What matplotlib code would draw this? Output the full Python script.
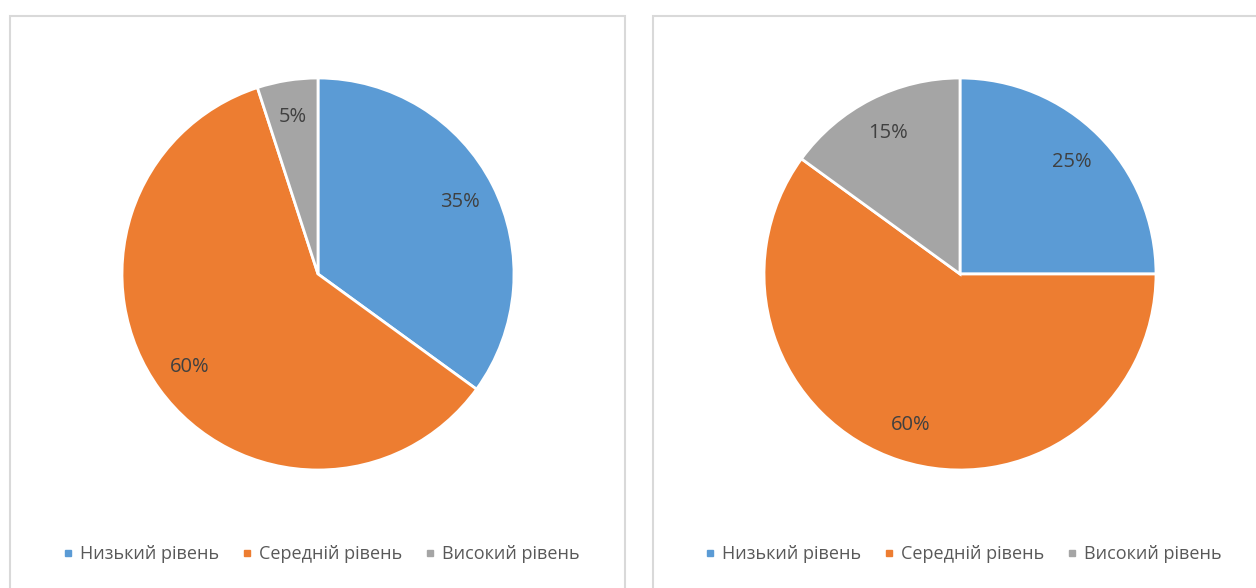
import matplotlib
matplotlib.use("Agg")
import matplotlib.pyplot as plt
from matplotlib.patches import Rectangle
from matplotlib.lines import Line2D

categories = ["Низький рівень", "Середній рівень", "Високий рівень"]
values_left = [35, 60, 5]
values_right = [25, 60, 15]
colors = ["#5B9BD5", "#ED7D31", "#A5A5A5"]

W, H = 1256, 588
fig = plt.figure(figsize=(W / 100, H / 100), dpi=100)
fig.patch.set_facecolor("white")
plt.rcParams['font.family'] = ['Open Sans', 'DejaVu Sans']

def px_rect(x0, y0, x1, y1):
    return [x0 / W, 1 - y1 / H, (x1 - x0) / W, (y1 - y0) / H]

# panel borders
for (x0, x1) in [(10, 625), (653, 1300)]:
    r = Rectangle((x0 / W, -0.1), (x1 - x0) / W, 1.1 - 16 / H,
                  transform=fig.transFigure, fill=False, edgecolor="#D9D9D9", linewidth=1.5)
    fig.add_artist(r)

R = 196
for cx, vals in [(318, values_left), (960, values_right)]:
    ax = fig.add_axes(px_rect(cx - R, 274 - R, cx + R, 274 + R))
    wedges, texts, autotexts = ax.pie(
        vals, colors=colors, startangle=90, counterclock=False,
        autopct=lambda p: f"{p:.0f}%", pctdistance=0.81,
        wedgeprops=dict(edgecolor="white", linewidth=2),
        textprops=dict(color="#404040", fontsize=14.5))
    ax.set_xlim(-1, 1)
    ax.set_ylim(-1, 1)
    ax.set_aspect("equal")
    for w in wedges:
        w.set_clip_on(False)
    handles = [Line2D([], [], marker="s", linestyle="none", markersize=5,
                      markerfacecolor=c, markeredgecolor=c) for c in colors]
    fig.legend(handles, categories, loc="center",
               bbox_to_anchor=((cx + 4) / W, 1 - 554 / H), ncol=3, frameon=False,
               handlelength=0.4, handletextpad=0.5, columnspacing=1.3,
               prop=dict(size=13), labelcolor="#595959")

fig.savefig("out.png", dpi=100, facecolor="white")
